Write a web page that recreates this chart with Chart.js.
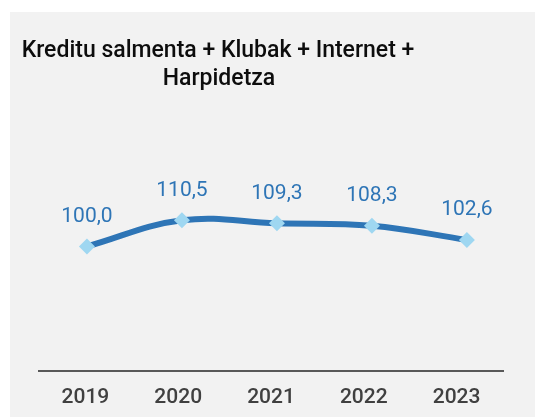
<!DOCTYPE html>
<html>
<head>
<meta charset="utf-8">
<script src="https://cdn.jsdelivr.net/npm/chart.js@4/dist/chart.umd.min.js"></script>
<style>
  html, body { margin: 0; padding: 0; background: #ffffff; }
  #panel { position: absolute; left: 10px; top: 12px; width: 525px; height: 405px; background: #f2f2f2; }
  canvas { display: block; }
</style>
</head>
<body>
<div id="panel"><canvas id="linechart" width="525" height="405"></canvas></div>
<script>
const years = ['2019', '2020', '2021', '2022', '2023'];
const indexValues = [100.0, 110.5, 109.3, 108.3, 102.6];
const titleLines = ['Kreditu salmenta + Klubak + Internet +', 'Harpidetza'];

// title drawn off-centre like the original
const titlePlugin = {
    id: 'leftTitle',
    afterDraw(chart) {
        const ctx = chart.ctx;
        ctx.save();
        ctx.font = '500 23px Roboto';
        ctx.fillStyle = '#0d0d0d';
        ctx.textAlign = 'center';
        ctx.textBaseline = 'alphabetic';
        ctx.fillText(titleLines[0], 208, 44.5);
        ctx.fillText(titleLines[1], 209, 73);
        ctx.restore();
    }
};

// value labels above each point
const valueLabels = {
    id: 'valueLabels',
    afterDatasetsDraw(chart) {
        const ctx = chart.ctx;
        const meta = chart.getDatasetMeta(0);
        ctx.save();
        ctx.font = '21px Roboto';
        ctx.fillStyle = '#2e75b6';
        ctx.textAlign = 'center';
        ctx.textBaseline = 'middle';
        meta.data.forEach((pt, i) => {
            const txt = indexValues[i].toFixed(1).replace('.', ',');
            ctx.fillText(txt, pt.x, pt.y - 30);
        });
        ctx.restore();
    }
};

const ctx = document.getElementById('linechart').getContext('2d');

const myLineChart = new Chart(ctx, {
    type: 'line',
    data: {
        labels: years,
        datasets: [{
            data: indexValues.map((v, i) => ({ x: i, y: v })),
            xAxisID: 'xp',
            borderColor: '#2e75b6',
            borderWidth: 6,
            tension: 0.4,
            pointStyle: 'rectRot',
            pointRadius: 8,
            pointBackgroundColor: '#9fd7f1',
            pointBorderColor: '#9fd7f1',
            pointBorderWidth: 0
        }]
    },
    options: {
        responsive: false,
        animation: false,
        layout: {
            padding: { top: 110, left: 29, right: 32, bottom: -7 }
        },
        plugins: {
            legend: { display: false },
            tooltip: { enabled: false },
            title: { display: false }
        },
        scales: {
            x: {
                offset: true,
                grid: { display: false, drawTicks: false },
                border: { display: true, color: '#595959', width: 2 },
                ticks: {
                    color: '#404040',
                    font: { family: 'Roboto', size: 21, weight: '500' },
                    padding: 14
                }
            },
            // points sit a little right of the year labels in the original
            xp: {
                type: 'linear',
                display: false,
                min: -0.505,
                max: 4.38
            },
            y: {
                display: false,
                min: 50,
                max: 150
            }
        }
    },
    plugins: [titlePlugin, valueLabels]
});
</script>
</body>
</html>
